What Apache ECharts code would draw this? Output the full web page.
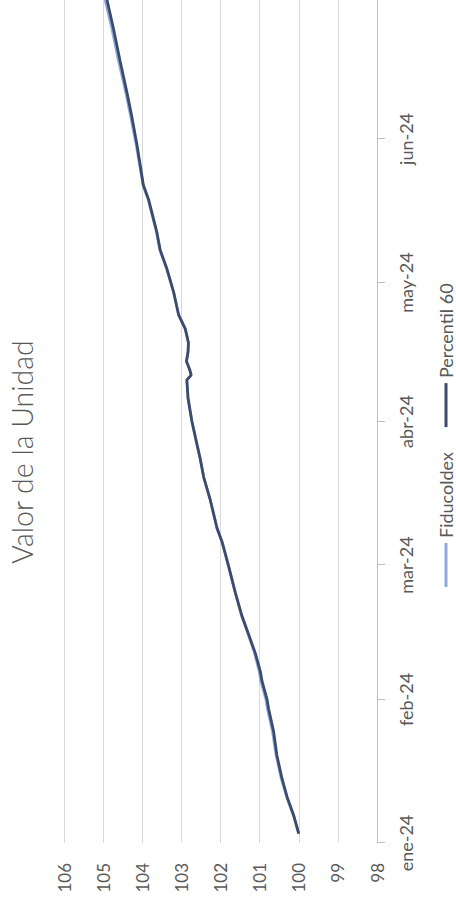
<!DOCTYPE html>
<html><head><meta charset="utf-8">
<script src="https://cdn.jsdelivr.net/npm/echarts@6/dist/echarts.min.js"></script>
<style>
html,body{margin:0;padding:0;width:456px;height:904px;overflow:hidden;background:#fff}
#chart{position:absolute;left:0;top:0;width:904px;height:456px;transform-origin:0 0;transform:translateY(904px) rotate(-90deg);}
</style></head><body><div id="chart"></div>
<script>
// Month tick labels and their day-of-year positions (0 = 1 Jan 2024)
const monthLabels = ['ene-24', 'feb-24', 'mar-24', 'abr-24', 'may-24', 'jun-24'];
const monthStartDays = [0, 31, 60, 91, 121, 152];
const axisEndDay = 182;
const valueMin = 98, valueMax = 106, valueStep = 1;

// Sample days (day of year) and values
const days = [2, 6, 10, 14, 19, 24, 29, 31, 35, 37, 41, 45, 49, 54, 60, 65, 68, 74, 79, 83, 86, 91, 96, 100, 101, 102, 104, 106, 108, 111, 114, 119, 124, 128, 132, 139, 142, 151, 157, 162, 169, 176, 182];
const percentil60 = [100.00, 100.13, 100.30, 100.43, 100.56, 100.64, 100.77, 100.81, 100.94, 100.98, 101.11, 101.28, 101.45, 101.62, 101.80, 101.96, 102.09, 102.26, 102.43, 102.52, 102.60, 102.73, 102.83, 102.86, 102.75, 102.78, 102.87, 102.83, 102.82, 102.90, 103.07, 103.20, 103.37, 103.54, 103.63, 103.84, 103.97, 104.14, 104.27, 104.39, 104.57, 104.74, 104.90];
const fiducoldex = [100.00, 100.14, 100.31, 100.45, 100.58, 100.67, 100.80, 100.84, 100.97, 101.01, 101.13, 101.29, 101.46, 101.62, 101.80, 101.96, 102.09, 102.26, 102.43, 102.52, 102.60, 102.73, 102.83, 102.86, 102.75, 102.78, 102.87, 102.83, 102.82, 102.90, 103.07, 103.20, 103.38, 103.55, 103.64, 103.85, 103.98, 104.16, 104.30, 104.42, 104.61, 104.78, 104.95];

const pair = (vals) => days.map((d, i) => [d, vals[i]]);
const labelFont = 'Lato, Carlito, "Open Sans", sans-serif';

const chart = echarts.init(document.getElementById('chart'), null, { renderer: 'svg' });
chart.setOption({
  animation: false,
  backgroundColor: '#ffffff',
  title: {
    text: 'Valor de la Unidad',
    left: 'center',
    top: 2,
    textStyle: { fontFamily: labelFont, fontSize: 28.5, fontWeight: 300, color: '#595959' }
  },
  legend: {
    left: 312,
    top: 432,
    itemWidth: 44,
    itemHeight: 3,
    itemGap: 25,
    icon: 'rect',
    textStyle: { fontFamily: labelFont, fontSize: 18, color: '#595959' },
    data: ['Fiducoldex', 'Percentil 60']
  },
  grid: { left: 61, right: 0, top: 64, bottom: 79, containLabel: false },
  xAxis: {
    type: 'value',
    min: 0,
    max: axisEndDay,
    axisLine: { show: true, onZero: false, lineStyle: { color: '#BFBFBF', width: 1 } },
    axisTick: { show: true, length: 8, customValues: monthStartDays.concat([axisEndDay]), lineStyle: { color: '#BFBFBF' } },
    axisLabel: {
      customValues: monthStartDays,
      margin: 20,
      fontFamily: labelFont, fontSize: 18, color: '#595959',
      formatter: (v) => monthLabels[monthStartDays.indexOf(v)] || ''
    },
    splitLine: { show: false }
  },
  yAxis: {
    type: 'value',
    min: valueMin,
    max: valueMax,
    interval: valueStep,
    axisLine: { show: false },
    axisTick: { show: false },
    axisLabel: { margin: 20, fontFamily: labelFont, fontSize: 17, color: '#595959' },
    splitLine: { show: true, lineStyle: { color: '#D9D9D9', width: 1 } }
  },
  series: [
    { name: 'Fiducoldex', type: 'line', data: pair(fiducoldex), showSymbol: false, symbol: 'none',
      lineStyle: { color: '#8FAADC', width: 2.75 }, itemStyle: { color: '#8FAADC' } },
    { name: 'Percentil 60', type: 'line', data: pair(percentil60), showSymbol: false, symbol: 'none',
      lineStyle: { color: '#3B4B6B', width: 2.75 }, itemStyle: { color: '#3B4B6B' } }
  ]
});
</script></body></html>
